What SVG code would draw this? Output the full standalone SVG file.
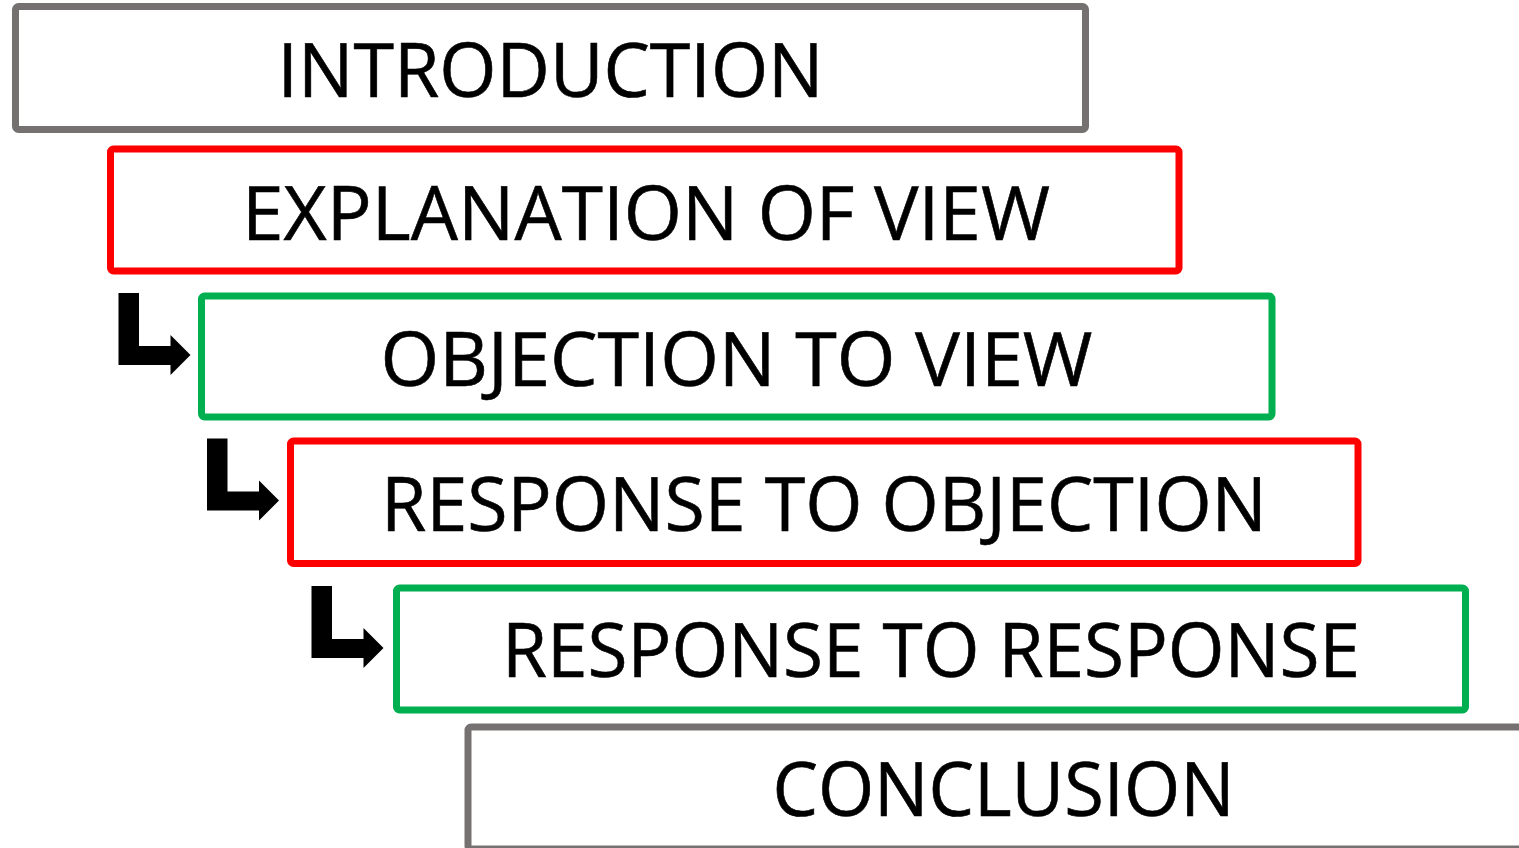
<svg xmlns="http://www.w3.org/2000/svg" width="1519" height="848" viewBox="0 0 1519 848">
<style>
.box{fill:#fff;stroke-width:7;stroke-linejoin:round}
.gray{stroke:#767171}
.red{stroke:#ff0000}
.green{stroke:#00b050}
.lbl{font-family:"Open Sans","Noto Sans","Liberation Sans",sans-serif;font-size:75px;fill:#000;text-anchor:middle;stroke:#000;stroke-width:0.6}
.arr{fill:#000}
</style>
<defs>
<path id="elbow" d="M0 0 H20.5 V53 H52 V42 L72 62 L52 82 V72 H0 Z"/>
</defs>
<rect width="1519" height="848" fill="#fff"/>
<g id="n-introduction">
<rect class="box gray" x="15.5" y="6.5" width="1070" height="123" rx="3"/>
<text class="lbl" x="550.5" y="97" textLength="546" lengthAdjust="spacingAndGlyphs">INTRODUCTION</text>
</g>
<g id="n-explanation">
<rect class="box red" x="110.5" y="149" width="1068.5" height="122" rx="3"/>
<text class="lbl" x="646" y="239.5" textLength="808" lengthAdjust="spacingAndGlyphs">EXPLANATION OF VIEW</text>
</g>
<g id="n-objection">
<rect class="box green" x="201.5" y="296" width="1070.5" height="121" rx="3"/>
<text class="lbl" x="736.5" y="386" textLength="712" lengthAdjust="spacingAndGlyphs">OBJECTION TO VIEW</text>
</g>
<g id="n-response">
<rect class="box red" x="290.5" y="441" width="1067.5" height="122.5" rx="3"/>
<text class="lbl" x="824" y="531" textLength="886" lengthAdjust="spacingAndGlyphs">RESPONSE TO OBJECTION</text>
</g>
<g id="n-response-to-response">
<rect class="box green" x="396.5" y="588" width="1069" height="122" rx="3"/>
<text class="lbl" x="931" y="677" textLength="858" lengthAdjust="spacingAndGlyphs">RESPONSE TO RESPONSE</text>
</g>
<g id="n-conclusion">
<rect class="box gray" x="468" y="727" width="1080" height="122" rx="3"/>
<text class="lbl" x="1003.5" y="816" textLength="462" lengthAdjust="spacingAndGlyphs">CONCLUSION</text>
</g>
<g id="connectors">
<use href="#elbow" class="arr" x="118.5" y="293"/>
<use href="#elbow" class="arr" x="207" y="438.5"/>
<use href="#elbow" class="arr" x="311.5" y="586"/>
</g>
</svg>
